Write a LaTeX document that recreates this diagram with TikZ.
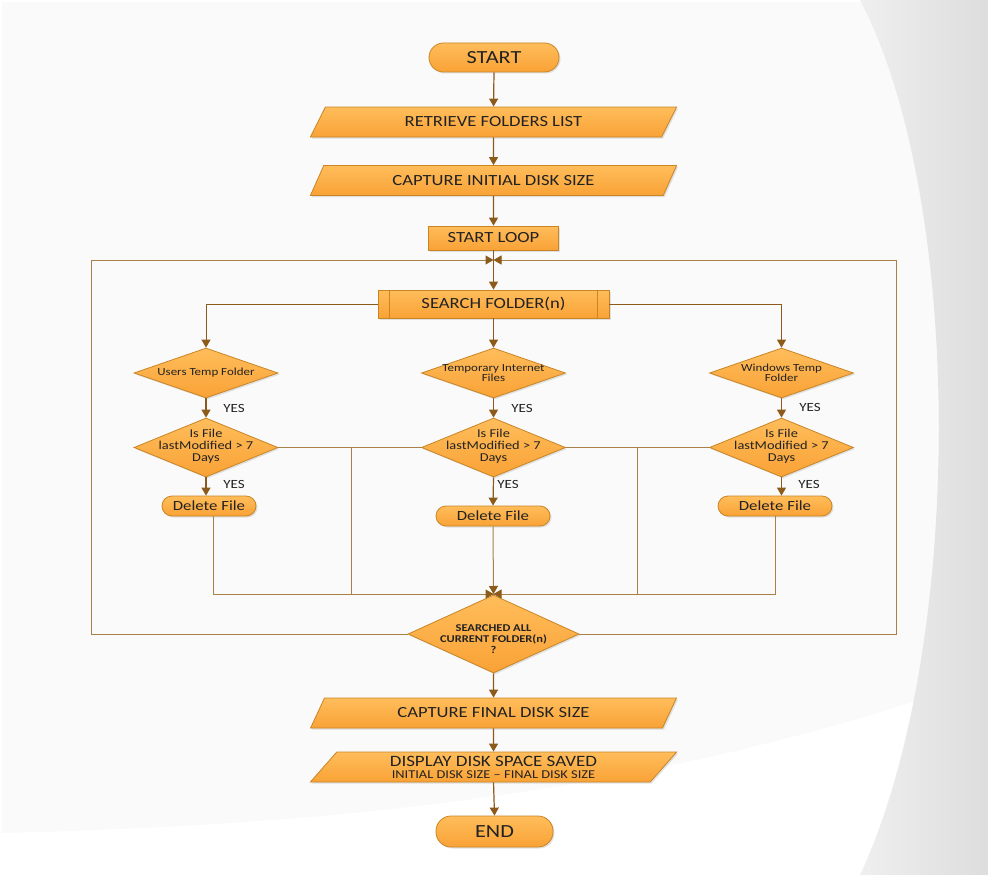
\documentclass[tikz,border=0pt]{standalone}
\usepackage{fontspec}
\setmainfont{Carlito}[FakeStretch=1.2]
\usetikzlibrary{shapes.geometric,arrows.meta,shadows,calc}
\definecolor{bgA}{HTML}{FAFAFA}
\definecolor{grA}{HTML}{EFEFEF}
\definecolor{grB}{HTML}{DDDDDD}
\definecolor{oraT}{HTML}{FFBD5B}
\definecolor{oraB}{HTML}{F9A236}
\definecolor{obord}{HTML}{C98524}
\definecolor{arr}{HTML}{8C5A1A}
\definecolor{thinc}{HTML}{A98048}
\definecolor{txt}{HTML}{222222}
\tikzset{
  shp/.style={draw=obord, line width=0.8pt, top color=oraT, bottom color=oraB,
    drop shadow={shadow xshift=1.5pt, shadow yshift=-1.5pt, opacity=0.22},
    text=txt, inner sep=0pt, align=center},
  para/.style={shp, trapezium, trapezium left angle=52, trapezium right angle=128,
    trapezium stretches=true, minimum width=367pt, minimum height=30pt,
    font=\fontsize{15.5}{18}\selectfont},
  term/.style={shp, rectangle, rounded corners=#1},
  boxr/.style={shp, rectangle},
  dia/.style={shp, diamond},
  dtxt/.style={text=txt, inner sep=0pt, align=center},
  tip/.style={-{Triangle[width=9pt,length=8pt,color=arr]}},
  arw/.style={draw=arr, line width=1.2pt, tip},
  ln/.style={draw=thinc, line width=1pt},
  lnarw/.style={ln, tip},
  yes/.style={text=txt, font=\fontsize{12.5}{14}\selectfont, inner sep=0pt},
}
\begin{document}
\begin{tikzpicture}[x=1pt,y=-1pt]
\useasboundingbox (0,0) rectangle (988,875);
% background
\fill[white] (0,0) rectangle (988,875);
\fill[bgA] (2,2) rectangle (988,875);
\fill[white] (0,833) .. controls (350,825) and (650,790) .. (940,693) -- (988,680) -- (988,875) -- (0,875) -- cycle;
\shade[left color=grA, right color=grB] (860,0) .. controls (965,200) and (965,650) .. (860,875) -- (988,875) -- (988,0) -- cycle;

% main column
\node[term=14.5pt, minimum width=130pt, minimum height=29pt, font=\fontsize{18.5}{20}\selectfont] (start) at (494,57.5) {START};
\node[para] (rfl) at (493.5,122) {RETRIEVE FOLDERS LIST};
\node[para] (cids) at (493.5,180.5) {CAPTURE INITIAL DISK SIZE};
\node[boxr, minimum width=130pt, minimum height=24pt, font=\fontsize{15.5}{18}\selectfont] (sloop) at (493.5,238) {START LOOP};
\coordinate (jt) at (493.5,260);
\coordinate (lbx) at (91,260);
\coordinate (rbx) at (896,260);
\node[boxr, minimum width=231pt, minimum height=28pt, font=\fontsize{15.5}{18}\selectfont] (sf) at (493.5,304) {SEARCH FOLDER(n)};
\draw[draw=obord, line width=0.8pt] ([xshift=12pt]sf.north west) -- ([xshift=12pt]sf.south west);
\draw[draw=obord, line width=0.8pt] ([xshift=-12pt]sf.north east) -- ([xshift=-12pt]sf.south east);

% first row diamonds
\node[dia, minimum width=144pt, minimum height=50pt] (ut) at (206,373) {};
\node[dtxt, font=\fontsize{10.8}{10.5}\selectfont] (utt) at (ut.center) {Users Temp Folder};
\node[dia, minimum width=144pt, minimum height=50pt] (tif) at (493.5,373) {};
\node[dtxt, font=\fontsize{10.8}{10.5}\selectfont] (tift) at (tif.center) {Temporary Internet\\Files};
\node[dia, minimum width=144pt, minimum height=50pt] (wt) at (781.5,373) {};
\node[dtxt, font=\fontsize{10.8}{10.5}\selectfont] (wtt) at (wt.center) {Windows Temp\\Folder};

% second row diamonds
\node[dia, minimum width=144pt, minimum height=59pt] (f1) at (206,447.5) {};
\node[dtxt, font=\fontsize{12}{12}\selectfont] (f1t) at ([yshift=1pt]f1.center) {Is File\\lastModified > 7\\Days};
\node[dia, minimum width=144pt, minimum height=59pt] (f2) at (493.5,447.5) {};
\node[dtxt, font=\fontsize{12}{12}\selectfont] (f2t) at ([yshift=1pt]f2.center) {Is File\\lastModified > 7\\Days};
\node[dia, minimum width=144pt, minimum height=59pt] (f3) at (781.5,447.5) {};
\node[dtxt, font=\fontsize{12}{12}\selectfont] (f3t) at ([yshift=1pt]f3.center) {Is File\\lastModified > 7\\Days};

% delete file
\node[term=10pt, minimum width=94pt, minimum height=20pt, font=\fontsize{14}{16}\selectfont] (del1) at (209,506) {Delete File};
\node[term=10pt, minimum width=114pt, minimum height=20pt, font=\fontsize{14}{16}\selectfont] (del2) at (493,516) {Delete File};
\node[term=10pt, minimum width=114pt, minimum height=20pt, font=\fontsize{14}{16}\selectfont] (del3) at (775,506) {Delete File};

% YES labels
\node[yes] (y1) at (234,408) {YES};
\node[yes] (y2) at (522,408) {YES};
\node[yes] (y3) at (810,407) {YES};
\node[yes] (y4) at (234,484) {YES};
\node[yes] (y5) at (508,484) {YES};
\node[yes] (y6) at (809,484) {YES};

% searched all
\node[dia, minimum width=171pt, minimum height=78pt] (sa) at (493.5,634) {};
\node[dtxt, font=\bfseries\fontsize{10.4}{11}\selectfont] (sat) at ([yshift=-5pt]sa.center) {SEARCHED ALL\\CURRENT FOLDER(n)\\?};
\coordinate (jb) at (493.5,594);
\coordinate (cl) at (351,447.5);
\coordinate (cr) at (637,447.5);

% bottom column
\node[para] (cfds) at (493.5,713) {CAPTURE FINAL DISK SIZE};
\node[para, font=\fontsize{12}{12}\selectfont] (dds) at (493.5,767) {{\fontsize{15.8}{16}\selectfont DISPLAY DISK SPACE SAVED}\\INITIAL DISK SIZE – FINAL DISK SIZE};
\node[term=15pt, minimum width=117pt, minimum height=31pt, font=\fontsize{18.5}{20}\selectfont] (end) at (494.5,831.5) {END};

% connectors main
\draw[arw] (start.south) -- (rfl.north);
\draw[arw] (rfl.south) -- (cids.north);
\draw[arw] (cids.south) -- (sloop.north);
\draw[arw] (sloop.south) -- (sf.north);
\draw[lnarw] (sa.west) -| (lbx) -- (jt);
\draw[lnarw] (sa.east) -| (rbx) -- (jt);

\draw[arw, line width=1pt] (sf.west) -| (ut.north);
\draw[arw, line width=1pt] (sf.south) -- (tif.north);
\draw[arw, line width=1pt] (sf.east) -| (wt.north);
\draw[arw] (ut.south) -- (f1.north);
\draw[arw] (tif.south) -- (f2.north);
\draw[arw] (wt.south) -- (f3.north);
\draw[arw] (f1.south) -- (f1.south |- del1.north);
\draw[arw] (f2.south) -- (del2.north);
\draw[arw] (f3.south) -- (f3.south |- del3.north);

% no branches
\draw[ln] (f1.east) -- (cl);
\draw[ln] (f2.west) -- (cl);
\draw[ln] (cl) |- (jb);
\draw[ln] (f2.east) -- (cr);
\draw[ln] (f3.west) -- (cr);
\draw[ln] (cr) |- (jb);
\draw[lnarw] ([xshift=4pt]del1.south) |- (jb);
\draw[lnarw] (del3.south) |- (jb);
\draw[lnarw] (del2.south) -- (jb);

\draw[arw] (sa.south) -- (cfds.north);
\draw[arw] (cfds.south) -- (dds.north);
\draw[arw] (dds.south) -- (end.north);
\end{tikzpicture}
\end{document}
